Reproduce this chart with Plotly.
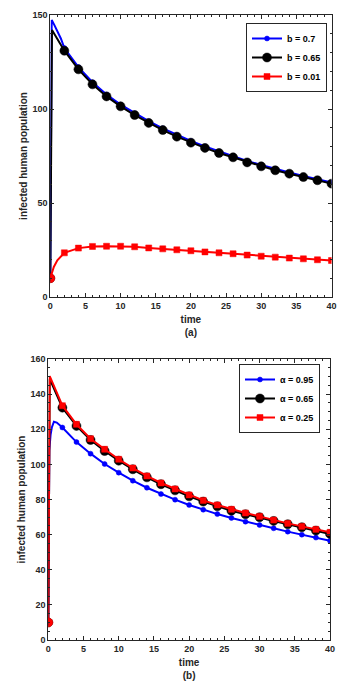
import plotly.graph_objects as go

# ---------------- data: panel (a) ----------------
t_a_blue = [0, 0.2, 0.6, 1, 1.5] + list(range(2, 41, 2))
y_a_blue = [10, 147.4, 144.5, 141.5, 137.5,
            132.4, 122.3, 114.2, 107.7, 102.3, 97.7, 93.5, 89.7, 86.2, 83.0,
            80.1, 77.4, 75.0, 72.4, 70.2, 68.1, 66.2, 64.4, 62.6, 60.9]
t_a_black = [0, 0.24, 0.6, 1, 1.5] + list(range(2, 41, 2))
y_a_black = [10, 142.0, 139.8, 137.3, 134.0,
             131.0, 121.1, 113.1, 106.7, 101.4, 96.8, 92.6, 88.8, 85.3, 82.1,
             79.3, 76.6, 74.3, 71.6, 69.5, 67.4, 65.6, 63.8, 62.1, 60.3]
t_a_red = [0, 0.25, 0.5, 1, 1.5] + list(range(2, 41, 2))
y_a_red = [10, 13.5, 16.0, 19.5, 21.8,
           23.5, 26.0, 26.9, 27.0, 27.0, 26.7, 26.1, 25.6, 25.1, 24.6,
           24.0, 23.5, 23.0, 22.3, 21.7, 21.2, 20.7, 20.3, 19.8, 19.4]
names_a = ["b = 0.7", "b = 0.65", "b = 0.01"]

# ---------------- data: panel (b) ----------------
t_b_blue = [0, 0.05, 0.14, 0.33, 0.5, 0.8, 1.2] + list(range(2, 41, 2))
y_b_blue = [10, 70, 108, 117, 121, 124.3, 123.8,
            121.0, 112.7, 106.1, 100.2, 95.3, 90.7, 86.7, 83.1, 79.9, 76.9,
            74.2, 71.7, 69.5, 67.4, 65.5, 63.6, 61.7, 60.0, 58.3, 56.5]
t_b_black = [0, 0.2, 0.6, 1, 1.5] + list(range(2, 41, 2))
y_b_black = [10, 148.5, 145.0, 141.2, 136.8,
             132.3, 121.9, 113.9, 107.6, 102.1, 97.2, 92.6, 88.7, 85.2, 81.8,
             78.8, 76.1, 73.6, 71.6, 69.9, 67.8, 65.9, 64.2, 62.3, 60.4]
t_b_red = [0, 0.2, 0.6, 1, 1.5] + list(range(2, 41, 2))
y_b_red = [10, 150.3, 146.5, 142.5, 137.8,
           133.4, 122.8, 114.6, 108.6, 102.9, 97.9, 93.4, 89.4, 86.0, 82.6,
           79.5, 76.9, 74.4, 72.3, 70.4, 68.3, 66.4, 64.7, 63.0, 61.3]
names_b = ["α = 0.95", "α = 0.65", "α = 0.25"]

x_ticks = [0, 5, 10, 15, 20, 25, 30, 35, 40]
y_ticks_a = [0, 50, 100, 150]
y_ticks_b = [0, 20, 40, 60, 80, 100, 120, 140, 160]

# ---------------- styles ----------------
FONT = "Liberation Sans, Arial, sans-serif"
AX = "#262626"
styles = [
    dict(color="#0000FF", symbol="circle", size=5),
    dict(color="#000000", symbol="circle", size=9),
    dict(color="#FF0000", symbol="square", size=6),
]

fig = go.Figure()


def add_series(t, y, st, name, xa, ya, legend, first_circle=False):
    sizes = []
    symbols = []
    for i, tv in enumerate(t):
        is_mark = float(tv).is_integer() and int(tv) % 2 == 0
        if i == 0 and first_circle:
            sizes.append(9)
            symbols.append("circle")
        else:
            sizes.append(st["size"] if is_mark else 0)
            symbols.append(st["symbol"])
    fig.add_trace(go.Scatter(
        x=t, y=y, mode="lines+markers", showlegend=False,
        line=dict(color=st["color"], width=2),
        marker=dict(color=st["color"], size=sizes, symbol=symbols, opacity=1,
                    line=dict(width=0.5, color=st["color"])),
        xaxis=xa, yaxis=ya, hoverinfo="skip"))
    fig.add_trace(go.Scatter(
        x=[None], y=[None], mode="lines+markers", name=name, legend=legend,
        line=dict(color=st["color"], width=2),
        marker=dict(color=st["color"], size=st["size"], symbol=st["symbol"], opacity=1,
                    line=dict(width=0.5, color=st["color"])),
        xaxis=xa, yaxis=ya))


for (t, y), st, nm in zip([(t_a_blue, y_a_blue), (t_a_black, y_a_black), (t_a_red, y_a_red)],
                          styles, names_a):
    add_series(t, y, st, nm, "x", "y", "legend", first_circle=(st["color"] == "#FF0000"))
for (t, y), st, nm in zip([(t_b_blue, y_b_blue), (t_b_black, y_b_black), (t_b_red, y_b_red)],
                          styles, names_b):
    add_series(t, y, st, nm, "x2", "y2", "legend2", first_circle=(st["color"] == "#FF0000"))

# page body has an 8px margin: figure is sized to fit the 354x686 window
OFF = 8
W, H = 354 - OFF, 686 - OFF


def px(x):
    return (x - OFF) / W


def py(y):
    return 1 - (y - OFF) / H


def axis_common():
    return dict(
        showgrid=False, zeroline=False, showline=True, mirror="allticks",
        linecolor=AX, linewidth=1, ticks="inside", ticklen=4, tickcolor=AX,
        tickwidth=1, automargin=False,
        tickfont=dict(family=FONT, size=9, color=AX, weight="bold"),
    )


title_font = dict(family=FONT, size=10, color=AX, weight="bold")

xa = axis_common()
xa.update(domain=[px(50.3), px(331.5)], range=[0, 40], tickvals=x_ticks, anchor="y",
          minor=dict(dtick=1, ticks="inside", ticklen=2, tickcolor=AX),
          title=dict(text="time<br>(a)", standoff=6, font=title_font))
ya = axis_common()
ya.update(domain=[py(297), py(15)], range=[0, 150], tickvals=y_ticks_a, anchor="x",
          minor=dict(dtick=10, ticks="inside", ticklen=2, tickcolor=AX),
          title=dict(text="infected human population", standoff=2, font=title_font))
xb = axis_common()
xb.update(domain=[px(48.3), px(330)], range=[0, 40], tickvals=x_ticks, anchor="y2",
          minor=dict(dtick=1, ticks="inside", ticklen=2, tickcolor=AX),
          title=dict(text="time<br>(b)", standoff=6, font=title_font))
yb = axis_common()
yb.update(domain=[py(640), py(359)], range=[0, 160], tickvals=y_ticks_b, anchor="x2",
          minor=dict(dtick=5, ticks="inside", ticklen=2, tickcolor=AX),
          title=dict(text="infected human population", standoff=2, font=title_font))

leg_common = dict(
    xanchor="right", yanchor="top", bgcolor="white", bordercolor=AX, borderwidth=1,
    font=dict(family=FONT, size=9, color="#000000", weight="bold"),
    tracegroupgap=0, itemwidth=30,
)

fig.update_layout(
    width=W, height=H, margin=dict(l=0, r=0, t=0, b=0),
    paper_bgcolor="white", plot_bgcolor="white",
    xaxis=xa, yaxis=ya, xaxis2=xb, yaxis2=yb,
    legend=dict(x=px(327), y=py(23), **leg_common),
    legend2=dict(x=px(320), y=py(364), **leg_common),
    font=dict(family=FONT),
)

fig.write_html("out.html")
